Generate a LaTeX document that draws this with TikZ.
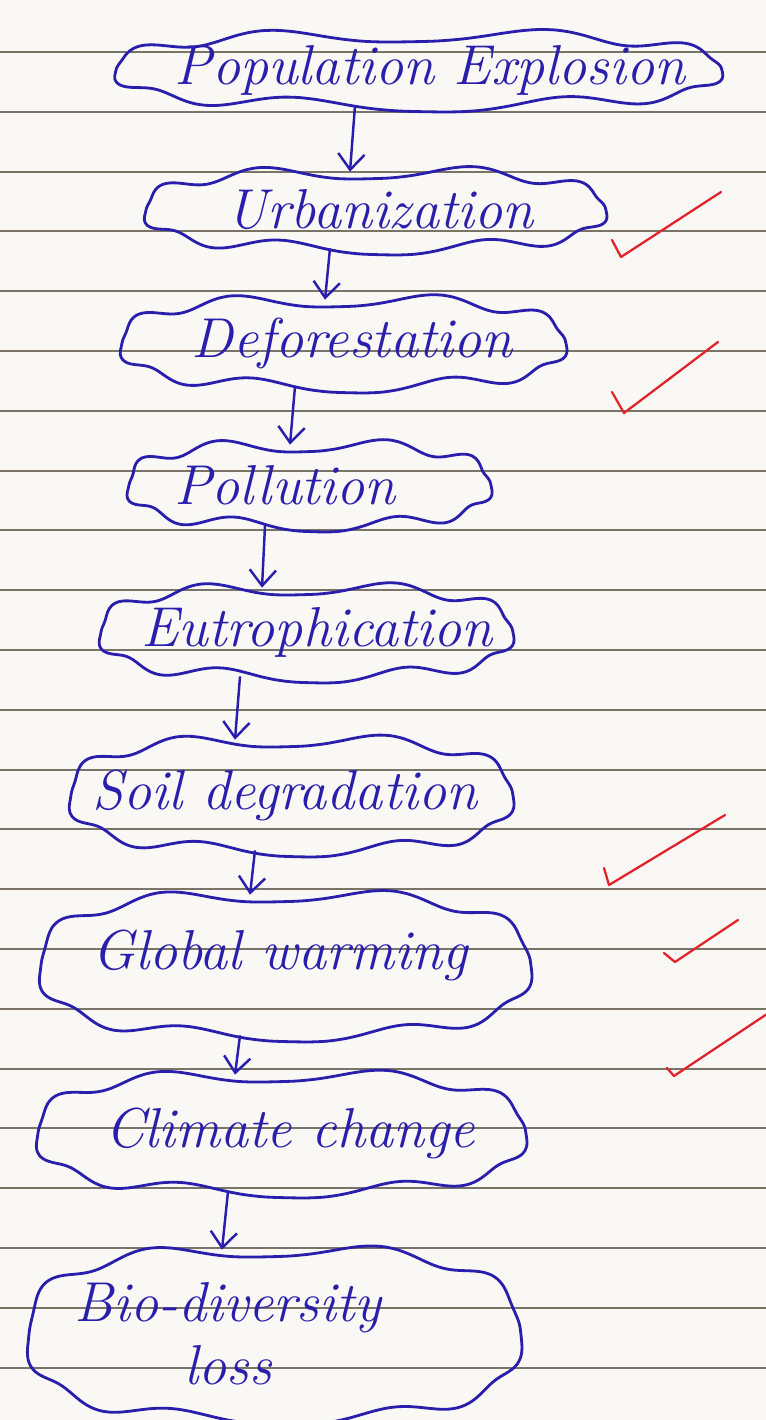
\documentclass[tikz,border=0pt]{standalone}
\usetikzlibrary{arrows.meta}
\definecolor{inkblue}{RGB}{42,30,172}
\definecolor{tickred}{RGB}{226,36,42}
\definecolor{ruleline}{RGB}{122,116,104}
\definecolor{paper}{RGB}{249,248,245}
% wavy outline round a named node: #1 name, #2 half width, #3 half height (px)
\newcommand\puffs[3]{\draw[edge,shift={(#1.center)}] plot[smooth cycle,domain=1:358,samples=120] ({#2*cos(\x)/pow(abs(cos(\x)),0.28)+3*cos(\x)*sin(9*\x+20)},{#3*sin(\x)/pow(abs(sin(\x)),0.28)+7*sin(\x)*sin(9*\x+20)});}
\begin{document}
\begin{tikzpicture}[x=0.02cm,y=-0.02cm,
 box/.style={rectangle,inner sep=0pt},
 edge/.style={draw=inkblue,line width=1.6pt,line join=round},
 words/.style={text=inkblue,font=\fontsize{32}{36}\selectfont\itshape,align=center},
 flow/.style={draw=inkblue,line width=1.4pt,-{Straight Barb[length=9pt,width=15pt]}},
 tick/.style={draw=tickred,line width=1.3pt,line cap=round,line join=round}]
 \useasboundingbox (0,0) rectangle (766,1420);
 \clip (0,0) rectangle (766,1420);
 \fill[paper] (0,0) rectangle (766,1420);
 % ruled paper
 \draw[ruleline,line width=0.8pt](0,52)--(766,52);
 \draw[ruleline,line width=0.8pt](0,112)--(766,112);
 \draw[ruleline,line width=0.8pt](0,172)--(766,172);
 \draw[ruleline,line width=0.8pt](0,231)--(766,231);
 \draw[ruleline,line width=0.8pt](0,291)--(766,291);
 \draw[ruleline,line width=0.8pt](0,351)--(766,351);
 \draw[ruleline,line width=0.8pt](0,411)--(766,411);
 \draw[ruleline,line width=0.8pt](0,471)--(766,471);
 \draw[ruleline,line width=0.8pt](0,530)--(766,530);
 \draw[ruleline,line width=0.8pt](0,590)--(766,590);
 \draw[ruleline,line width=0.8pt](0,650)--(766,650);
 \draw[ruleline,line width=0.8pt](0,710)--(766,710);
 \draw[ruleline,line width=0.8pt](0,770)--(766,770);
 \draw[ruleline,line width=0.8pt](0,829)--(766,829);
 \draw[ruleline,line width=0.8pt](0,889)--(766,889);
 \draw[ruleline,line width=0.8pt](0,949)--(766,949);
 \draw[ruleline,line width=0.8pt](0,1009)--(766,1009);
 \draw[ruleline,line width=0.8pt](0,1069)--(766,1069);
 \draw[ruleline,line width=0.8pt](0,1128)--(766,1128);
 \draw[ruleline,line width=0.8pt](0,1188)--(766,1188);
 \draw[ruleline,line width=0.8pt](0,1248)--(766,1248);
 \draw[ruleline,line width=0.8pt](0,1308)--(766,1308);
 \draw[ruleline,line width=0.8pt](0,1368)--(766,1368);
 % clouds
 \node[box,minimum width=12.12cm,minimum height=1.4cm,label={[words,xshift=0.24cm]center:Population Explosion}] (pop) at (418,70) {};
 \node[box,minimum width=9.2cm,minimum height=1.52cm,label={[words,xshift=0.1cm]center:Urbanization}] (urb) at (375,210) {};
 \node[box,minimum width=8.88cm,minimum height=1.72cm,label={[words,xshift=0.18cm]center:Deforestation}] (defo) at (343,343) {};
 \node[box,minimum width=7.24cm,minimum height=1.6cm,label={[words,xshift=-0.48cm]center:Pollution}] (poll) at (309,485) {};
 \node[box,minimum width=8.24cm,minimum height=1.76cm,label={[words,xshift=0.22cm]center:Eutrophication}] (eutro) at (306,632) {};
 \node[box,minimum width=8.84cm,minimum height=2.2cm,label={[words,xshift=-0.12cm]center:Soil degradation}] (soil) at (291,795) {};
 \node[box,minimum width=9.8cm,minimum height=2.8cm,label={[words,xshift=-0.1cm,yshift=0.2cm]center:Global warming}] (glob) at (285,965) {};
 \node[box,minimum width=9.76cm,minimum height=2.32cm,label={[words,xshift=0.18cm]center:Climate change}] (clim) at (281,1133) {};
 \node[box,minimum width=9.84cm,minimum height=3.36cm,label={[words,xshift=-0.92cm]center:Bio-diversity\\loss}] (bio) at (274,1334) {};
 \puffs{pop}{303}{35}
 \puffs{urb}{230}{38}
 \puffs{defo}{222}{43}
 \puffs{poll}{181}{40}
 \puffs{eutro}{206}{44}
 \puffs{soil}{221}{55}
 \puffs{glob}{245}{70}
 \puffs{clim}{244}{58}
 \puffs{bio}{246}{84}
 % arrows
 \draw[flow]([xshift=-1.26cm]pop.south)--([xshift=-0.5cm]urb.north);
 \draw[flow]([xshift=-0.9cm]urb.south)--([xshift=-0.36cm]defo.north);
 \draw[flow]([xshift=-0.96cm]defo.south)--([xshift=-0.38cm]poll.north);
 \draw[flow]([xshift=-0.88cm]poll.south)--([xshift=-0.88cm]eutro.north);
 \draw[flow]([xshift=-1.32cm]eutro.south)--([xshift=-1.12cm]soil.north);
 \draw[flow]([xshift=-0.72cm]soil.south)--([xshift=-0.7cm]glob.north);
 \draw[flow]([xshift=-0.9cm]glob.south)--([xshift=-0.92cm]clim.north);
 \draw[flow]([xshift=-1.06cm]clim.south)--([xshift=-1.04cm]bio.north);
 % ticks
 \draw[tick](612,240)--(621,257)--(721,192);
 \draw[tick](612,392)--(624,413)--(718,342);
 \draw[tick](604,868)--(609,885)--(725,815);
 \draw[tick](664,953)--(675,962)--(738,920);
 \draw[tick](667,1068)--(674,1076)--(770,1012);
\end{tikzpicture}
\end{document}
